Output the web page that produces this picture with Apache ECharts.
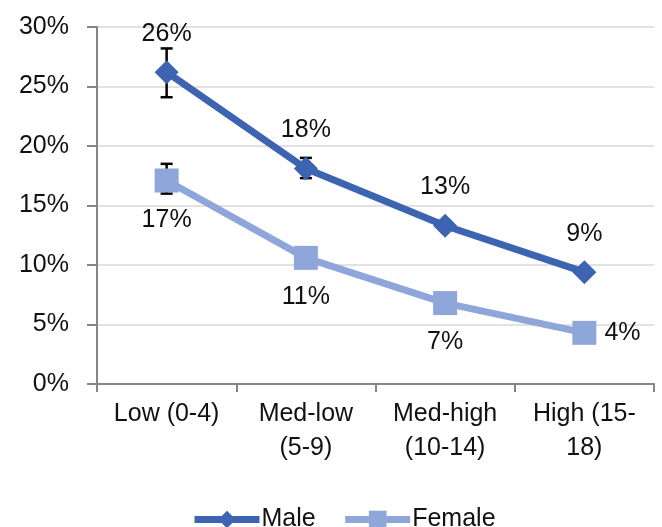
<!DOCTYPE html>
<html><head><meta charset="utf-8">
<script src="https://cdn.jsdelivr.net/npm/echarts@6/dist/echarts.min.js"></script>
<style>html,body{margin:0;padding:0;background:#fff}#c{width:662px;height:527px}</style>
</head><body><div id="c"></div>
<script>
const categories = ['Low (0-4)', 'Med-low\n(5-9)', 'Med-high\n(10-14)', 'High (15-\n18)'];
const yTicks = [0, 5, 10, 15, 20, 25, 30];
const male = [26.2, 18.1, 13.3, 9.4];
const female = [17.1, 10.6, 6.8, 4.3];
const maleLabels = ['26%', '18%', '13%', '9%'];
const femaleLabels = ['17%', '11%', '7%', '4%'];
const maleErrLow = [24.1, 17.3, 12.9, 9.1];
const maleErrHigh = [28.2, 19.0, 13.7, 9.7];
const femaleErrLow = [16.0, 10.2, 6.5, 4.0];
const femaleErrHigh = [18.5, 11.0, 7.1, 4.6];

const FONT = 'Liberation Sans';
const MALE_C = '#3C64B1';
const FEMALE_C = '#8EA6DA';
const TXT = '#111';

function errData(lo, hi) { return lo.map((v, i) => [i, v, hi[i]]); }
function errSeries(lo, hi) {
  return {
    type: 'custom', z: 1, silent: true,
    data: errData(lo, hi),
    renderItem: function (params, api) {
      const x = api.value(0);
      const p1 = api.coord([x, api.value(1)]);
      const p2 = api.coord([x, api.value(2)]);
      const w = 6;
      const st = { stroke: '#000', lineWidth: 2.5 };
      return { type: 'group', children: [
        { type: 'line', shape: { x1: p1[0], y1: p1[1], x2: p2[0], y2: p2[1] }, style: st },
        { type: 'line', shape: { x1: p1[0] - w, y1: p1[1], x2: p1[0] + w, y2: p1[1] }, style: st },
        { type: 'line', shape: { x1: p2[0] - w, y1: p2[1], x2: p2[0] + w, y2: p2[1] }, style: st }
      ]};
    }
  };
}

const labelStyle = { show: true, fontFamily: FONT, fontSize: 25, color: TXT };

const chart = echarts.init(document.getElementById('c'), null, { renderer: 'canvas' });
chart.setOption({
  animation: false,
  backgroundColor: '#fff',
  textStyle: { fontFamily: FONT },
  grid: { left: 97, right: 8, top: 27, bottom: 143, containLabel: false },
  legend: {
    left: 186, top: 502, itemWidth: 65, itemHeight: 22, itemGap: 26,
    textStyle: { fontFamily: FONT, fontSize: 25, color: TXT, padding: [0, 0, 0, -3] },
    data: [
      { name: 'Male', lineStyle: { width: 7, color: MALE_C } },
      { name: 'Female', lineStyle: { width: 7, color: FEMALE_C } }
    ]
  },
  xAxis: {
    type: 'category', data: categories, boundaryGap: true,
    axisLine: { lineStyle: { color: '#868686', width: 2 } },
    axisTick: { show: true, length: 8, lineStyle: { color: '#868686', width: 2 } },
    axisLabel: { fontFamily: FONT, fontSize: 25, color: TXT, margin: 13, lineHeight: 34, interval: 0 }
  },
  yAxis: {
    type: 'value', min: 0, max: 30, interval: 5,
    axisLine: { show: true, lineStyle: { color: '#868686', width: 2 } },
    axisTick: { show: true, length: 10, lineStyle: { color: '#868686', width: 2 } },
    splitLine: { lineStyle: { color: '#D9D9D9', width: 1.5 } },
    axisLabel: { fontFamily: FONT, fontSize: 25, color: TXT, margin: 28,
      formatter: v => yTicks.includes(v) ? v + '%' : '' }
  },
  series: [
    errSeries(maleErrLow, maleErrHigh),
    errSeries(femaleErrLow, femaleErrHigh),
    {
      name: 'Male', type: 'line', z: 3, data: male.map((v, i) => ({
        value: v,
        label: Object.assign({}, labelStyle, { position: 'top', distance: 14, formatter: maleLabels[i] })
      })),
      symbol: 'diamond', symbolSize: 24, color: MALE_C,
      lineStyle: { color: MALE_C, width: 7 },
      itemStyle: { color: MALE_C, borderWidth: 0 }
    },
    {
      name: 'Female', type: 'line', z: 2, data: female.map((v, i) => ({
        value: v,
        label: Object.assign({}, labelStyle, i === 3
          ? { position: 'right', distance: 8, formatter: femaleLabels[i] }
          : { position: 'bottom', distance: 15, formatter: femaleLabels[i] })
      })),
      symbol: 'rect', symbolSize: 24, color: FEMALE_C,
      lineStyle: { color: FEMALE_C, width: 7 },
      itemStyle: { color: FEMALE_C, borderWidth: 0 }
    }
  ]
});
</script></body></html>
